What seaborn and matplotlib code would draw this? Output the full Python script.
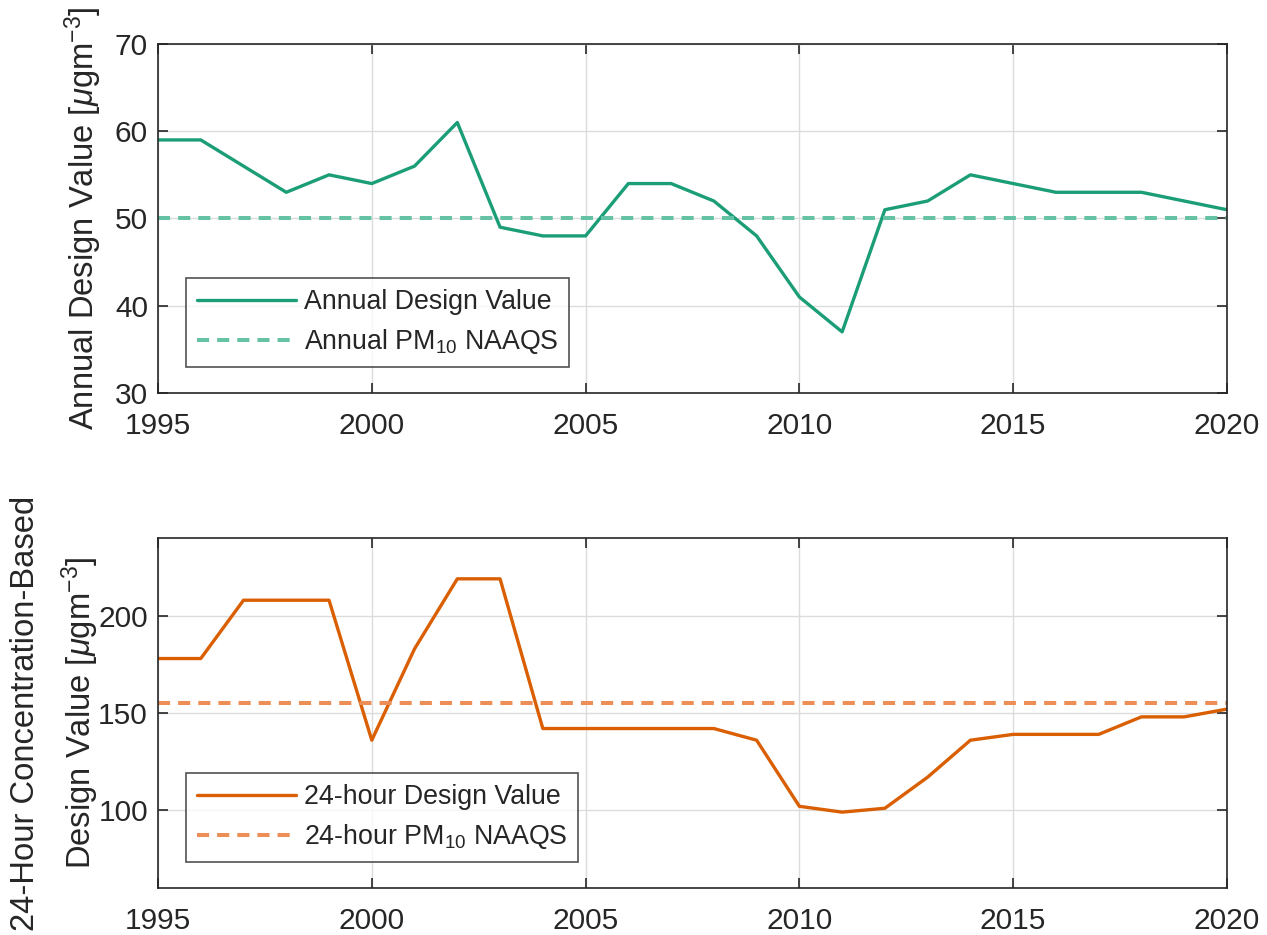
import matplotlib
matplotlib.use("Agg")
import matplotlib.pyplot as plt
import seaborn as sns
import pandas as pd

years = list(range(1995, 2021))
annual_dv = [59, 59, 56, 53, 55, 54, 56, 61, 49, 48, 48, 54, 54, 52, 48, 41,
             37, 51, 52, 55, 54, 53, 53, 53, 52, 51]
daily_dv = [178, 178, 208, 208, 208, 136, 183, 219, 219, 142, 142, 142, 142,
            142, 136, 102, 99, 101, 117, 136, 139, 139, 139, 148, 148, 152]
annual_naaqs = 50
daily_naaqs = 155

x_ticks = [1995, 2000, 2005, 2010, 2015, 2020]

sns.set_theme(style="white")
plt.rcParams["font.family"] = ["Liberation Sans", "DejaVu Sans"]
plt.rcParams["mathtext.fontset"] = "custom"
plt.rcParams["mathtext.rm"] = "Liberation Sans"
plt.rcParams["mathtext.it"] = "Liberation Sans:italic"

df = pd.DataFrame({
    "year": years,
    "annual": annual_dv,
    "annual_std": [annual_naaqs] * len(years),
    "daily": daily_dv,
    "daily_std": [daily_naaqs] * len(years),
})

fig = plt.figure(figsize=(12.67, 9.35), dpi=100)
ax1 = fig.add_axes([0.1247, 0.5797, 0.8437, 0.3733])
ax2 = fig.add_axes([0.1247, 0.0503, 0.8437, 0.3743])

green, green_lt = "#1b9e77", "#66c2a5"
orange, orange_lt = "#d95f02", "#ec8e55"
ink = "#262626"
TICK_FS = 21.5
LABEL_FS = 23.6
LEGEND_FS = 19.3


def style_axis(ax, ylim, yticks):
    ax.set_xlim(1995, 2020)
    ax.set_ylim(*ylim)
    ax.set_xticks(x_ticks)
    ax.set_yticks(yticks)
    ax.grid(True, color="#dcdcdc", linewidth=1.0)
    ax.set_axisbelow(True)
    ax.tick_params(direction="in", length=7.5, width=1.2, colors=ink,
                   labelsize=TICK_FS, top=True, right=True,
                   bottom=True, left=True)
    ax.tick_params(axis="x", pad=13.5)
    ax.tick_params(axis="y", pad=7.2)
    for s in ax.spines.values():
        s.set_color(ink)
        s.set_linewidth(1.2)
    ax.set_xlabel("")


def add_legend(ax):
    leg = ax.legend(loc="lower left", bbox_to_anchor=(0.0262, 0.0745),
                    borderaxespad=0, fontsize=LEGEND_FS, frameon=True,
                    fancybox=False, edgecolor=ink, handlelength=3.7,
                    handletextpad=0.3, borderpad=0.4, labelspacing=0.45)
    leg.get_frame().set_linewidth(1.2)
    leg.get_lines()[1].set_dashes((3, 2))
    return leg


# Annual design values
sns.lineplot(data=df, x="year", y="annual", ax=ax1, color=green,
             linewidth=2.4, label="Annual Design Value")
sns.lineplot(data=df, x="year", y="annual_std", ax=ax1, color=green_lt,
             linewidth=2.9, label=r"Annual PM$_{10}$ NAAQS")
ax1.lines[1].set_dashes((3, 2))
style_axis(ax1, (30, 70), [30, 40, 50, 60, 70])
ax1.set_ylabel(r"Annual Design Value [$\mu$gm$^{-3}$]", fontsize=LABEL_FS,
               color=ink, labelpad=8)
add_legend(ax1)

# 24-hour design values
sns.lineplot(data=df, x="year", y="daily", ax=ax2, color=orange,
             linewidth=2.4, label="24-hour Design Value")
sns.lineplot(data=df, x="year", y="daily_std", ax=ax2, color=orange_lt,
             linewidth=2.9, label=r"24-hour PM$_{10}$ NAAQS")
ax2.lines[1].set_dashes((3, 2))
style_axis(ax2, (60, 240), [100, 150, 200])
ax2.set_ylabel("24-Hour Concentration-Based\n" + r"Design Value [$\mu$gm$^{-3}$]",
               fontsize=LABEL_FS, color=ink, labelpad=-2, linespacing=1.6)
add_legend(ax2)

fig.savefig("out.png", dpi=100, facecolor="white")
